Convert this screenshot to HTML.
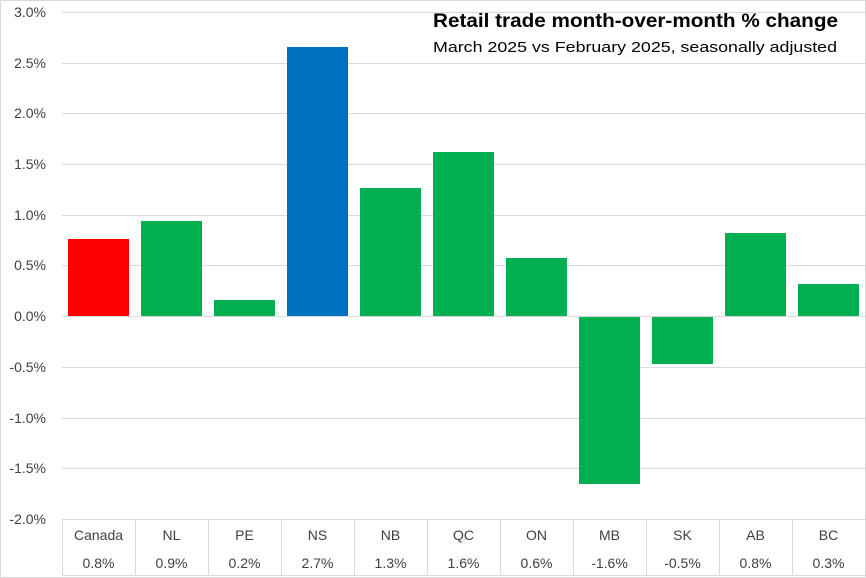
<!DOCTYPE html>
<html><head><style>
body{margin:0;background:#fff;}
svg{display:block;font-family:"Liberation Sans",sans-serif;}
</style></head><body>
<svg width="866" height="578" xmlns="http://www.w3.org/2000/svg">
<rect x="0.5" y="0.5" width="865" height="577" fill="#fff" stroke="#d9d9d9"/>
<g stroke="#d9d9d9" stroke-width="1">
<line x1="62" x2="866" y1="12.5" y2="12.5"/>
<line x1="62" x2="866" y1="63.5" y2="63.5"/>
<line x1="62" x2="866" y1="113.5" y2="113.5"/>
<line x1="62" x2="866" y1="164.5" y2="164.5"/>
<line x1="62" x2="866" y1="215.5" y2="215.5"/>
<line x1="62" x2="866" y1="265.5" y2="265.5"/>
<line x1="62" x2="866" y1="316.5" y2="316.5"/>
<line x1="62" x2="866" y1="367.5" y2="367.5"/>
<line x1="62" x2="866" y1="418.5" y2="418.5"/>
<line x1="62" x2="866" y1="468.5" y2="468.5"/>
<line x1="62" x2="866" y1="519.5" y2="519.5"/>
<line x1="62" x2="866" y1="575.5" y2="575.5"/>
<line x1="62.5" x2="62.5" y1="519" y2="576"/>
<line x1="135.5" x2="135.5" y1="519" y2="576"/>
<line x1="208.5" x2="208.5" y1="519" y2="576"/>
<line x1="281.5" x2="281.5" y1="519" y2="576"/>
<line x1="354.5" x2="354.5" y1="519" y2="576"/>
<line x1="427.5" x2="427.5" y1="519" y2="576"/>
<line x1="500.5" x2="500.5" y1="519" y2="576"/>
<line x1="573.5" x2="573.5" y1="519" y2="576"/>
<line x1="646.5" x2="646.5" y1="519" y2="576"/>
<line x1="719.5" x2="719.5" y1="519" y2="576"/>
<line x1="792.5" x2="792.5" y1="519" y2="576"/>
</g>
<g>
<rect x="68" y="239" width="61" height="77" fill="#ff0000"/>
<rect x="141" y="221" width="61" height="95" fill="#00b050"/>
<rect x="214" y="300" width="61" height="16" fill="#00b050"/>
<rect x="287" y="47" width="61" height="269" fill="#0070c0"/>
<rect x="360" y="188" width="61" height="128" fill="#00b050"/>
<rect x="433" y="152" width="61" height="164" fill="#00b050"/>
<rect x="506" y="258" width="61" height="58" fill="#00b050"/>
<rect x="579" y="317" width="61" height="167" fill="#00b050"/>
<rect x="652" y="317" width="61" height="47" fill="#00b050"/>
<rect x="725" y="233" width="61" height="83" fill="#00b050"/>
<rect x="798" y="284" width="61" height="32" fill="#00b050"/>
</g>
<g font-size="14" fill="#404040" text-anchor="end">
<text x="46" y="17">3.0%</text>
<text x="46" y="68">2.5%</text>
<text x="46" y="118">2.0%</text>
<text x="46" y="169">1.5%</text>
<text x="46" y="220">1.0%</text>
<text x="46" y="270">0.5%</text>
<text x="46" y="321">0.0%</text>
<text x="46" y="372">-0.5%</text>
<text x="46" y="423">-1.0%</text>
<text x="46" y="473">-1.5%</text>
<text x="46" y="524">-2.0%</text>
</g>
<g font-size="14" fill="#404040" text-anchor="middle">
<text x="98.5" y="540">Canada</text><text x="98.5" y="568">0.8%</text>
<text x="171.5" y="540">NL</text><text x="171.5" y="568">0.9%</text>
<text x="244.5" y="540">PE</text><text x="244.5" y="568">0.2%</text>
<text x="317.5" y="540">NS</text><text x="317.5" y="568">2.7%</text>
<text x="390.5" y="540">NB</text><text x="390.5" y="568">1.3%</text>
<text x="463.5" y="540">QC</text><text x="463.5" y="568">1.6%</text>
<text x="536.5" y="540">ON</text><text x="536.5" y="568">0.6%</text>
<text x="609.5" y="540">MB</text><text x="609.5" y="568">-1.6%</text>
<text x="682.5" y="540">SK</text><text x="682.5" y="568">-0.5%</text>
<text x="755.5" y="540">AB</text><text x="755.5" y="568">0.8%</text>
<text x="828.5" y="540">BC</text><text x="828.5" y="568">0.3%</text>
</g>
<text x="433" y="27" font-size="19" font-weight="bold" fill="#000" textLength="405" lengthAdjust="spacingAndGlyphs">Retail trade month-over-month % change</text>
<text x="433" y="52" font-size="15" fill="#000" textLength="404" lengthAdjust="spacingAndGlyphs">March 2025 vs February 2025,  seasonally adjusted</text>
</svg>
</body></html>
